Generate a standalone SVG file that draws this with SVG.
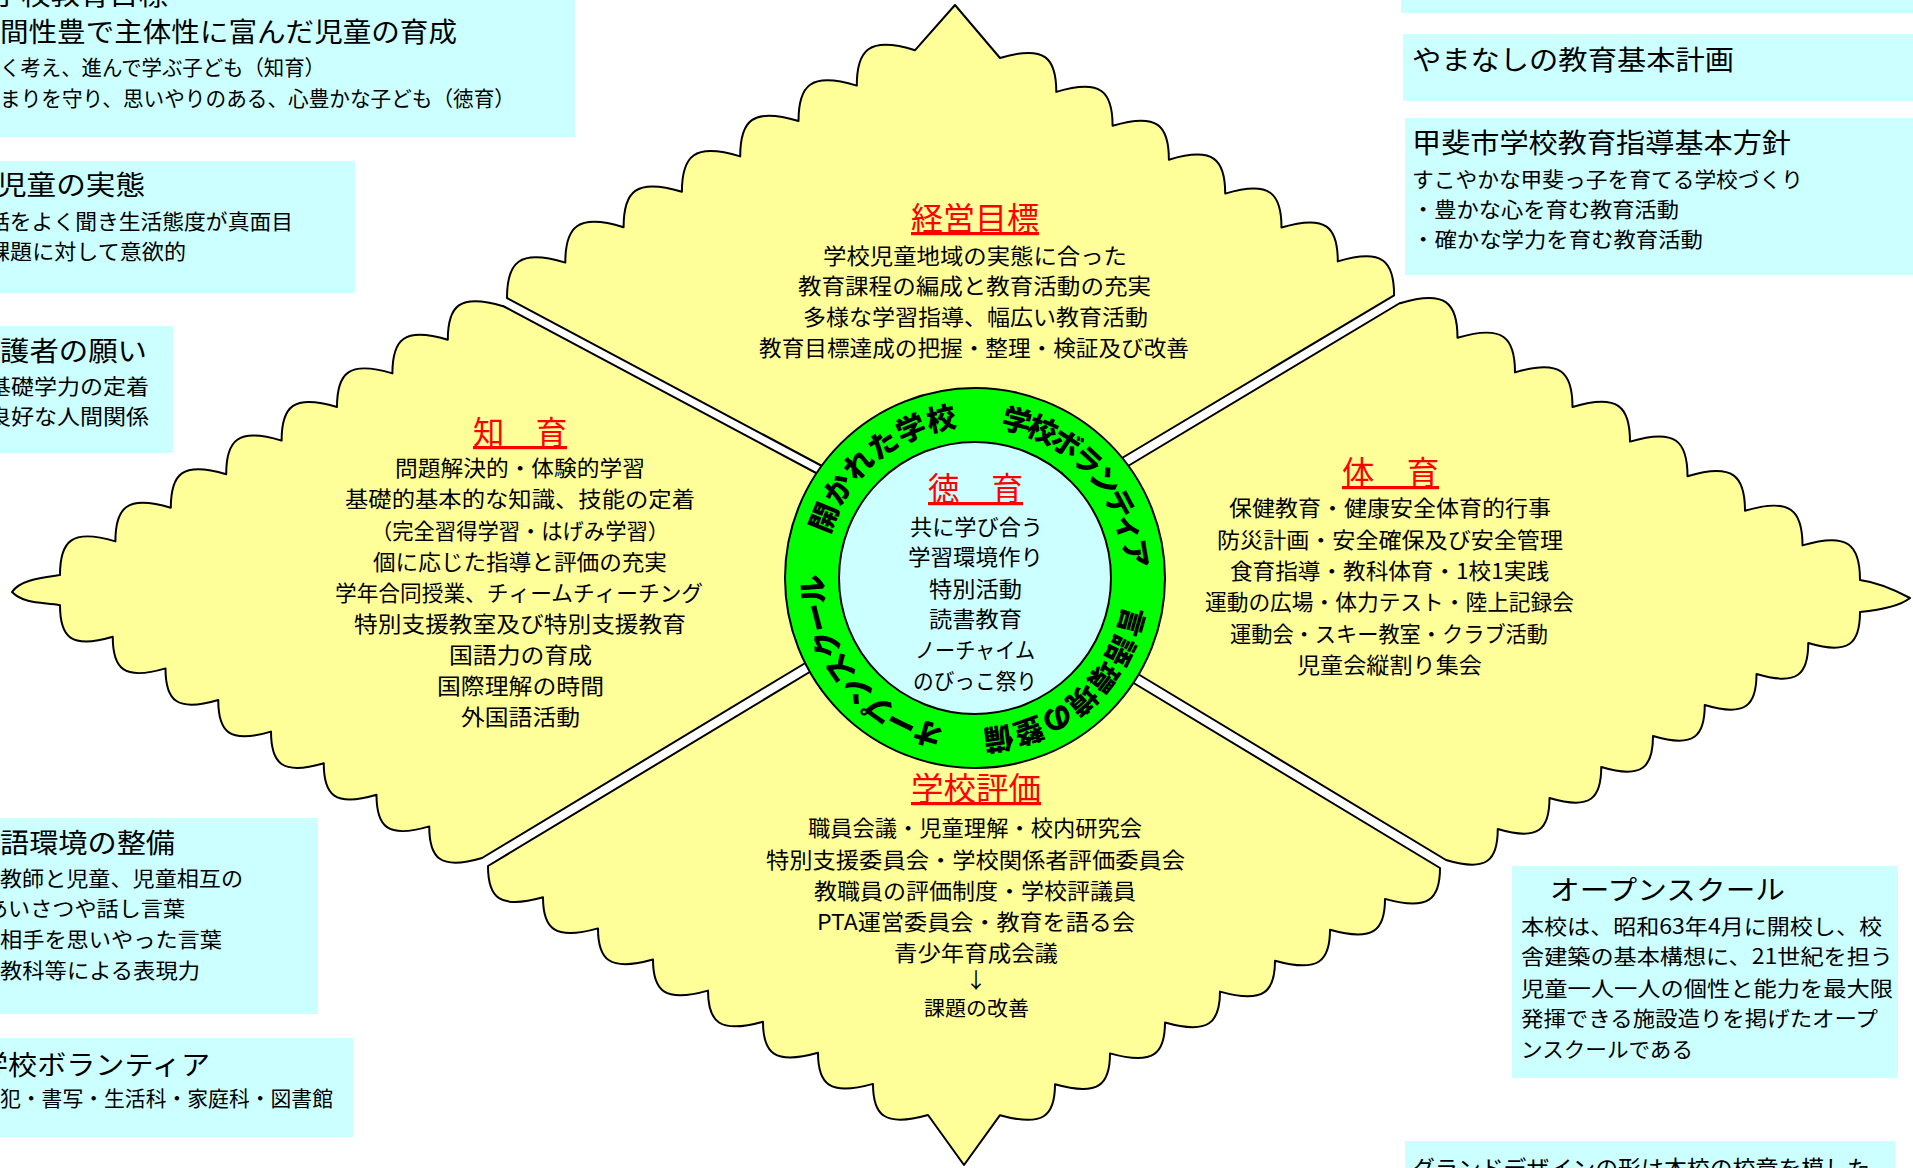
<svg xmlns="http://www.w3.org/2000/svg" width="1913" height="1168" viewBox="0 0 1913 1168">
<defs>
<style>
text { font-family: "Noto Sans CJK JP", "Noto Sans CJK SC", sans-serif; fill: #000; }
.box { fill: #CCFFFF; }
.q { fill: #FFFF99; stroke: #000; stroke-width: 2; stroke-linejoin: round; }
.h { font-size: 27px; }
.b { font-size: 21px; }
.c { font-size: 21.5px; }
.red { font-size: 32px; fill: #FF0000; text-decoration: underline; }
.ring { font-size: 29px; font-weight: 900; }
</style>
<path id="ringPath" d="M 1127,578 A 152 152 0 1 1 823,578 A 152 152 0 1 1 1127,578"/>
</defs>
<rect width="1913" height="1168" fill="#FFFFFF"/>

<g id="box-goal">
<rect class="box" x="-10" y="-10" width="585" height="147"/>
<text class="h" x="-8" y="5" textLength="176" lengthAdjust="spacingAndGlyphs">学校教育目標</text>
<text class="h" x="0" y="42" textLength="457" lengthAdjust="spacingAndGlyphs">間性豊で主体性に富んだ児童の育成</text>
<text class="b" x="0" y="75" textLength="325" lengthAdjust="spacingAndGlyphs">く考え、進んで学ぶ子ども（知育）</text>
<text class="b" x="0" y="106" textLength="515" lengthAdjust="spacingAndGlyphs">まりを守り、思いやりのある、心豊かな子ども（徳育）</text>
</g>

<g id="box-children">
<rect class="box" x="-10" y="161" width="365" height="132"/>
<text class="h" x="-3" y="195" textLength="148" lengthAdjust="spacingAndGlyphs">児童の実態</text>
<text class="b" x="-12" y="229" textLength="305" lengthAdjust="spacingAndGlyphs">話をよく聞き生活態度が真面目</text>
<text class="b" x="-12" y="259" textLength="198" lengthAdjust="spacingAndGlyphs">課題に対して意欲的</text>
</g>

<g id="box-parents">
<rect class="box" x="-10" y="326" width="183" height="127"/>
<text class="h" x="0" y="361" textLength="147" lengthAdjust="spacingAndGlyphs">護者の願い</text>
<text class="b" x="-12" y="394" textLength="161" lengthAdjust="spacingAndGlyphs">基礎学力の定着</text>
<text class="b" x="-12" y="424" textLength="161" lengthAdjust="spacingAndGlyphs">良好な人間関係</text>
</g>

<g id="box-language">
<rect class="box" x="-10" y="818" width="328" height="196"/>
<text class="h" x="0" y="853" textLength="175" lengthAdjust="spacingAndGlyphs">語環境の整備</text>
<text class="b" x="0" y="886" textLength="243" lengthAdjust="spacingAndGlyphs">教師と児童、児童相互の</text>
<text class="b" x="-14" y="916" textLength="199" lengthAdjust="spacingAndGlyphs">あいさつや話し言葉</text>
<text class="b" x="0" y="947" textLength="222" lengthAdjust="spacingAndGlyphs">相手を思いやった言葉</text>
<text class="b" x="0" y="978" textLength="200" lengthAdjust="spacingAndGlyphs">教科等による表現力</text>
</g>

<g id="box-volunteer">
<rect class="box" x="-10" y="1038" width="363" height="99"/>
<text class="h" x="-21" y="1075" textLength="231" lengthAdjust="spacingAndGlyphs">学校ボランティア</text>
<text class="b" x="0" y="1106" textLength="333" lengthAdjust="spacingAndGlyphs">犯・書写・生活科・家庭科・図書館</text>
</g>

<g id="box-top-strip">
<rect class="box" x="1401" y="-10" width="530" height="23"/>
</g>

<g id="box-yamanashi">
<rect class="box" x="1403" y="34" width="530" height="67"/>
<text class="h" x="1412" y="70" textLength="322" lengthAdjust="spacingAndGlyphs">やまなしの教育基本計画</text>
</g>

<g id="box-kai">
<rect class="box" x="1405" y="118" width="530" height="157"/>
<text class="h" x="1412" y="153" textLength="379" lengthAdjust="spacingAndGlyphs">甲斐市学校教育指導基本方針</text>
<text class="b" x="1412" y="187" textLength="391" lengthAdjust="spacingAndGlyphs">すこやかな甲斐っ子を育てる学校づくり</text>
<text class="b" x="1412" y="217" textLength="267" lengthAdjust="spacingAndGlyphs">・豊かな心を育む教育活動</text>
<text class="b" x="1412" y="247" textLength="291" lengthAdjust="spacingAndGlyphs">・確かな学力を育む教育活動</text>
</g>

<g id="box-openschool">
<rect class="box" x="1512" y="866" width="386" height="212"/>
<text class="h" x="1550" y="900" textLength="235" lengthAdjust="spacingAndGlyphs">オープンスクール</text>
<text class="b" x="1521" y="934" textLength="361" lengthAdjust="spacingAndGlyphs">本校は、昭和63年4月に開校し、校</text>
<text class="b" x="1521" y="964" textLength="372" lengthAdjust="spacingAndGlyphs">舎建築の基本構想に、21世紀を担う</text>
<text class="b" x="1521" y="996" textLength="372" lengthAdjust="spacingAndGlyphs">児童一人一人の個性と能力を最大限</text>
<text class="b" x="1521" y="1026" textLength="357" lengthAdjust="spacingAndGlyphs">発揮できる施設造りを掲げたオープ</text>
<text class="b" x="1521" y="1057" textLength="172" lengthAdjust="spacingAndGlyphs">ンスクールである</text>
</g>

<g id="box-design">
<rect class="box" x="1405" y="1141" width="490" height="40"/>
<text style="font-size:23px" x="1412" y="1177" textLength="458" lengthAdjust="spacingAndGlyphs">グランドデザインの形は本校の校章を模した</text>
</g>

<g id="connectors"></g>

<g id="q-management">
<path class="q" d="M 507,298 c 0,-35.4 11.7,-49.6 58.3,-35.4 c 0,-35.4 11.7,-49.6 58.3,-35.4 c 0,-35.4 11.7,-49.6 58.3,-35.4 c 0,-35.4 11.7,-49.6 58.3,-35.4 c 0,-35.4 11.7,-49.6 58.3,-35.4 c 0,-35.4 11.7,-49.6 58.3,-35.4 c 0,-35.4 11.7,-49.6 58.3,-35.4 L 955,5 L 1000,58 c 45,-13.6 56.3,0 56.3,33.9 c 45,-13.6 56.3,0 56.3,33.9 c 45,-13.6 56.3,0 56.3,33.9 c 45,-13.6 56.3,0 56.3,33.9 c 45,-13.6 56.3,0 56.3,33.9 c 45,-13.6 56.3,0 56.3,33.9 c 45,-13.6 56.3,0 56.3,33.9 L 1122,458 L 975,565 L 822,466 Z"/>
<text class="red" x="911" y="230" textLength="128" lengthAdjust="spacingAndGlyphs">経営目標</text>
<text class="c" x="823" y="264" textLength="304" lengthAdjust="spacingAndGlyphs">学校児童地域の実態に合った</text>
<text class="c" x="798" y="294" textLength="353" lengthAdjust="spacingAndGlyphs">教育課程の編成と教育活動の充実</text>
<text class="c" x="803" y="325" textLength="345" lengthAdjust="spacingAndGlyphs">多様な学習指導、幅広い教育活動</text>
<text class="c" x="759" y="356" textLength="430" lengthAdjust="spacingAndGlyphs">教育目標達成の把握・整理・検証及び改善</text>
</g>

<g id="q-intellect">
<path class="q" d="M 503,306 L 818,474 L 960,578 L 812,659 L 482,858 c -42.2,12.6 -52.75,0 -52.75,-31.6 c -42.2,12.6 -52.75,0 -52.75,-31.6 c -42.2,12.6 -52.75,0 -52.75,-31.6 c -42.2,12.6 -52.75,0 -52.75,-31.6 c -42.2,12.6 -52.75,0 -52.75,-31.6 c -42.2,12.6 -52.75,0 -52.75,-31.6 c -42.2,12.6 -52.75,0 -52.75,-31.6 c -42.2,12.6 -52.75,0 -52.75,-31.6 C 45,602 25,605 12,592 C 20,580 40,578 60,575 c 0,-33.6 11.1,-47 55.4,-33.6 c 0,-33.6 11.1,-47 55.4,-33.6 c 0,-33.6 11.1,-47 55.4,-33.6 c 0,-33.6 11.1,-47 55.4,-33.6 c 0,-33.6 11.1,-47 55.4,-33.6 c 0,-33.6 11.1,-47 55.4,-33.6 c 0,-33.6 11.1,-47 55.4,-33.6 c 0,-33.6 11.1,-47 55.4,-33.6 Z"/>
<text class="red" x="473" y="444" textLength="94" lengthAdjust="spacingAndGlyphs">知　育</text>
<text class="c" x="395" y="476" textLength="250" lengthAdjust="spacingAndGlyphs">問題解決的・体験的学習</text>
<text class="c" x="345" y="507" textLength="350" lengthAdjust="spacingAndGlyphs">基礎的基本的な知識、技能の定着</text>
<text class="c" x="371" y="539" textLength="298" lengthAdjust="spacingAndGlyphs">（完全習得学習・はげみ学習）</text>
<text class="c" x="373" y="570" textLength="294" lengthAdjust="spacingAndGlyphs">個に応じた指導と評価の充実</text>
<text class="c" x="335" y="601" textLength="368" lengthAdjust="spacingAndGlyphs">学年合同授業、チィームチィーチング</text>
<text class="c" x="354" y="632" textLength="332" lengthAdjust="spacingAndGlyphs">特別支援教室及び特別支援教育</text>
<text class="c" x="449" y="663" textLength="143" lengthAdjust="spacingAndGlyphs">国語力の育成</text>
<text class="c" x="437" y="694" textLength="167" lengthAdjust="spacingAndGlyphs">国際理解の時間</text>
<text class="c" x="461" y="725" textLength="119" lengthAdjust="spacingAndGlyphs">外国語活動</text>
</g>

<g id="q-physical">
<path class="q" d="M 1400,303 L 1128,466 L 990,578 L 1133,671 L 1446,860 c 41.4,12.4 51.75,0 51.75,-31 c 41.4,12.4 51.75,0 51.75,-31 c 41.4,12.4 51.75,0 51.75,-31 c 41.4,12.4 51.75,0 51.75,-31 c 41.4,12.4 51.75,0 51.75,-31 c 41.4,12.4 51.75,0 51.75,-31 c 41.4,12.4 51.75,0 51.75,-31 c 41.4,12.4 51.75,0 51.75,-31 C 1880,610 1900,606 1910,598 C 1895,590 1875,582 1860,580 c 0,-34.6 -11.5,-48.4 -57.5,-34.6 c 0,-34.6 -11.5,-48.4 -57.5,-34.6 c 0,-34.6 -11.5,-48.4 -57.5,-34.6 c 0,-34.6 -11.5,-48.4 -57.5,-34.6 c 0,-34.6 -11.5,-48.4 -57.5,-34.6 c 0,-34.6 -11.5,-48.4 -57.5,-34.6 c 0,-34.6 -11.5,-48.4 -57.5,-34.6 c 0,-34.6 -11.5,-48.4 -57.5,-34.6 Z"/>
<text class="red" x="1342" y="484" textLength="97" lengthAdjust="spacingAndGlyphs">体　育</text>
<text class="c" x="1229" y="516" textLength="322" lengthAdjust="spacingAndGlyphs">保健教育・健康安全体育的行事</text>
<text class="c" x="1217" y="548" textLength="346" lengthAdjust="spacingAndGlyphs">防災計画・安全確保及び安全管理</text>
<text class="c" x="1230" y="579" textLength="319" lengthAdjust="spacingAndGlyphs">食育指導・教科体育・1校1実践</text>
<text class="c" x="1205" y="610" textLength="369" lengthAdjust="spacingAndGlyphs">運動の広場・体力テスト・陸上記録会</text>
<text class="c" x="1230" y="642" textLength="318" lengthAdjust="spacingAndGlyphs">運動会・スキー教室・クラブ活動</text>
<text class="c" x="1297" y="673" textLength="185" lengthAdjust="spacingAndGlyphs">児童会縦割り集会</text>
</g>

<g id="q-evaluation">
<path class="q" d="M 488,866 L 818,667 L 975,595 L 1127,679 L 1440,868 c 0,30.9 -11,43.3 -55,30.9 c 0,30.9 -11,43.3 -55,30.9 c 0,30.9 -11,43.3 -55,30.9 c 0,30.9 -11,43.3 -55,30.9 c 0,30.9 -11,43.3 -55,30.9 c 0,30.9 -11,43.3 -55,30.9 c 0,30.9 -11,43.3 -55,30.9 c 0,30.9 -11,43.3 -55,30.9 L 964,1165 L 928,1115 c -44,12.4 -55,0 -55,-31.1 c -44,12.4 -55,0 -55,-31.1 c -44,12.4 -55,0 -55,-31.1 c -44,12.4 -55,0 -55,-31.1 c -44,12.4 -55,0 -55,-31.1 c -44,12.4 -55,0 -55,-31.1 c -44,12.4 -55,0 -55,-31.1 c -44,12.4 -55,0 -55,-31.1 Z"/>
<text class="red" x="911" y="800" textLength="130" lengthAdjust="spacingAndGlyphs">学校評価</text>
<text class="c" x="808" y="836" textLength="334" lengthAdjust="spacingAndGlyphs">職員会議・児童理解・校内研究会</text>
<text class="c" x="766" y="868" textLength="419" lengthAdjust="spacingAndGlyphs">特別支援委員会・学校関係者評価委員会</text>
<text class="c" x="814" y="899" textLength="322" lengthAdjust="spacingAndGlyphs">教職員の評価制度・学校評議員</text>
<text class="c" x="817" y="930" textLength="318" lengthAdjust="spacingAndGlyphs">PTA運営委員会・教育を語る会</text>
<text class="c" x="894" y="961" textLength="164" lengthAdjust="spacingAndGlyphs">青少年育成会議</text>
<text class="c" x="976" y="988" text-anchor="middle">↓</text>
<text style="font-size:20px" x="924" y="1016" textLength="105" lengthAdjust="spacingAndGlyphs">課題の改善</text>
</g>

<g id="center-moral">
<circle cx="975" cy="578" r="190" fill="#00FF00" stroke="#000" stroke-width="2"/>
<circle cx="975" cy="578" r="136" fill="#CCFFFF" stroke="#000" stroke-width="2"/>
<text class="ring" text-anchor="middle" letter-spacing="0.2"><textPath href="#ringPath" startOffset="129">言語環境の整備</textPath></text>
<text class="ring" text-anchor="middle" letter-spacing="-2.5"><textPath href="#ringPath" startOffset="374">オープンスクール</textPath></text>
<text class="ring" text-anchor="middle" letter-spacing="0.8"><textPath href="#ringPath" startOffset="610">開かれた学校</textPath></text>
<text class="ring" text-anchor="middle" letter-spacing="-3.6"><textPath href="#ringPath" startOffset="842">学校ボランティア</textPath></text>
<text class="red" x="928" y="500" textLength="95" lengthAdjust="spacingAndGlyphs">徳　育</text>
<text class="c" x="910" y="535" textLength="133" lengthAdjust="spacingAndGlyphs">共に学び合う</text>
<text class="c" x="908" y="565" textLength="135" lengthAdjust="spacingAndGlyphs">学習環境作り</text>
<text class="c" x="929" y="597" textLength="93" lengthAdjust="spacingAndGlyphs">特別活動</text>
<text class="c" x="929" y="627" textLength="93" lengthAdjust="spacingAndGlyphs">読書教育</text>
<text class="c" x="915" y="658" textLength="120" lengthAdjust="spacingAndGlyphs">ノーチャイム</text>
<text class="c" x="913" y="689" textLength="124" lengthAdjust="spacingAndGlyphs">のびっこ祭り</text>
</g>
</svg>
